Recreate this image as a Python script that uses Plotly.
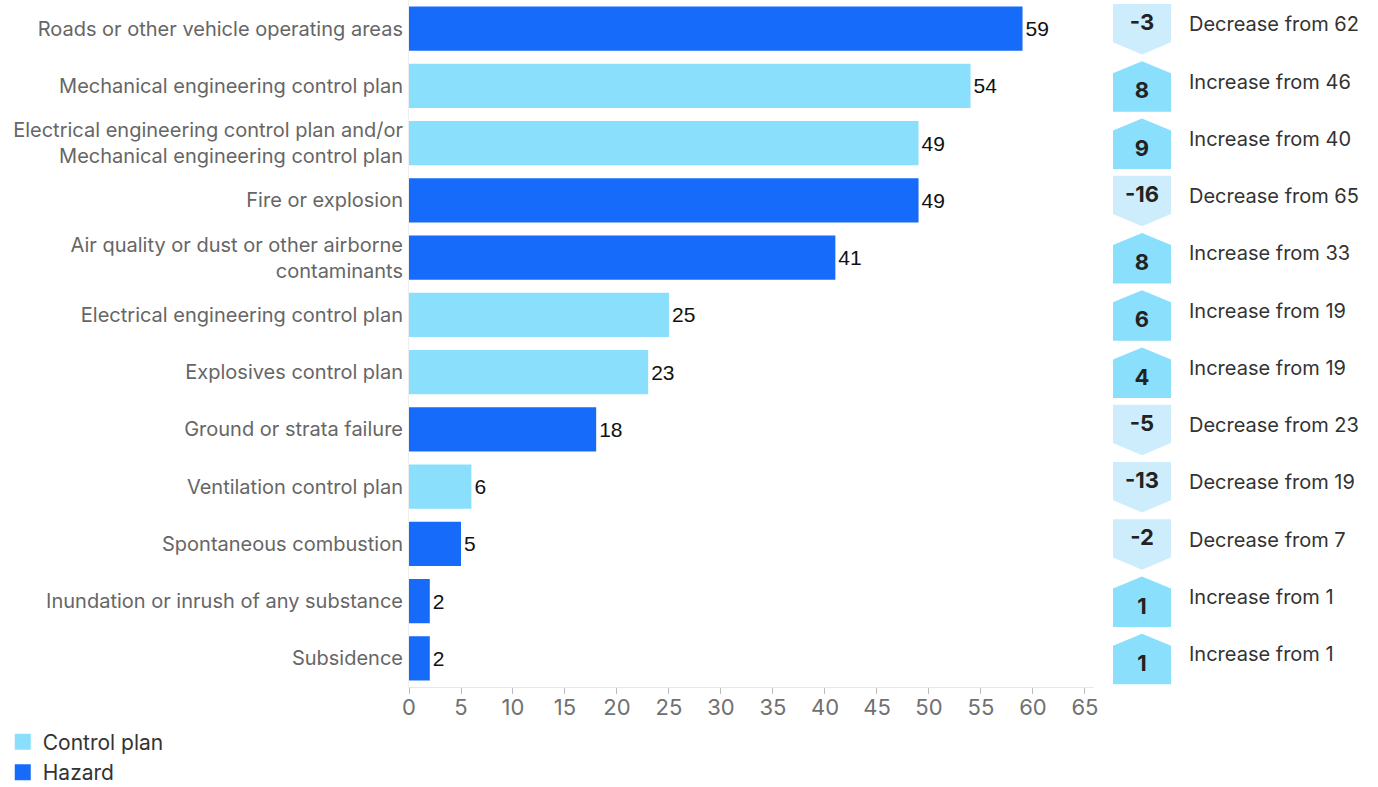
import plotly.graph_objects as go

# Incident counts by hazard / control plan category
categories = [
    "Roads or other vehicle operating areas",
    "Mechanical engineering control plan",
    "Electrical engineering control plan and/or<br>Mechanical engineering control plan",
    "Fire or explosion",
    "Air quality or dust or other airborne<br>contaminants",
    "Electrical engineering control plan",
    "Explosives control plan",
    "Ground or strata failure",
    "Ventilation control plan",
    "Spontaneous combustion",
    "Inundation or inrush of any substance",
    "Subsidence",
]
kinds = [
    "Hazard", "Control plan", "Control plan", "Hazard", "Hazard", "Control plan",
    "Control plan", "Hazard", "Control plan", "Hazard", "Hazard", "Hazard",
]
current = [59, 54, 49, 49, 41, 25, 23, 18, 6, 5, 2, 2]
previous = [62, 46, 40, 65, 33, 19, 19, 23, 19, 7, 1, 1]
x_ticks = list(range(0, 70, 5))

COLORS = {"Control plan": "#8adffd", "Hazard": "#166bfa"}
UP_FILL = "#8adffd"
DOWN_FILL = "#cdedfd"
LABEL_FONT = "Inter, 'Liberation Sans', Arial, sans-serif"
VALUE_FONT = "'Liberation Sans', Arial, sans-serif"

fig = go.Figure()

# Bars, one trace per kind
for kind in ["Control plan", "Hazard"]:
    idx = [i for i, k in enumerate(kinds) if k == kind]
    fig.add_trace(go.Bar(
        orientation="h",
        y=[categories[i] for i in idx],
        x=[current[i] for i in idx],
        width=0.77,
        marker=dict(color=COLORS[kind], line=dict(width=0)),
        text=[str(current[i]) for i in idx],
        textposition="outside",
        textfont=dict(family=VALUE_FONT, size=21, color="#111111"),
        cliponaxis=False,
        name=kind,
        legendgroup=kind,
        showlegend=False,
        hoverinfo="x+y",
    ))

# Legend entries with larger square swatches
for kind in ["Control plan", "Hazard"]:
    fig.add_trace(go.Scatter(
        x=[None], y=[None], mode="markers",
        marker=dict(symbol="square", size=16, color=COLORS[kind]),
        name=kind, legendgroup=kind, showlegend=True,
    ))

# Change badges (pentagon arrows) on a secondary pixel-like axis
BX0, BX1 = 19, 77
BXM = (BX0 + BX1) / 2
TIP = 0.21
for i, (cur, prev) in enumerate(zip(current, previous)):
    change = cur - prev
    top, bot = i - 0.43, i + 0.45
    if change < 0:
        xs = [BX0, BX1, BX1, BXM, BX0, BX0]
        ys = [top, top, bot - TIP, bot, bot - TIP, top]
        fill = DOWN_FILL
        ny = i - 0.07
        desc = f"Decrease from {prev}"
    else:
        xs = [BXM, BX1, BX1, BX0, BX0, BXM]
        ys = [top, top + TIP, bot, bot, top + TIP, top]
        fill = UP_FILL
        ny = i + 0.12
        desc = f"Increase from {prev}"
    fig.add_trace(go.Scatter(
        x=xs, y=ys, xaxis="x2", yaxis="y2", mode="lines",
        fill="toself", fillcolor=fill, line=dict(width=0, color=fill),
        showlegend=False, hoverinfo="skip",
    ))
    fig.add_trace(go.Scatter(
        x=[BXM], y=[ny], xaxis="x2", yaxis="y2", mode="text",
        text=[f"<b>{change}</b>"],
        textfont=dict(family=LABEL_FONT, size=22, color="#222222"),
        showlegend=False, hoverinfo="skip",
    ))
    fig.add_trace(go.Scatter(
        x=[95], y=[i - 0.04], xaxis="x2", yaxis="y2", mode="text",
        text=[desc], textposition="middle right",
        textfont=dict(family=LABEL_FONT, size=20, color="#333333"),
        showlegend=False, hoverinfo="skip",
    ))

fig.update_layout(
    width=1378, height=787,
    margin=dict(l=409, r=0, t=0, b=100, autoexpand=False),
    paper_bgcolor="white", plot_bgcolor="white",
    barmode="overlay",
    font=dict(family=LABEL_FONT, color="#666666"),
    xaxis=dict(
        domain=[0, 0.7069], range=[0, 65.87],
        tickvals=x_ticks, ticks="outside", ticklen=6, tickcolor="#bbbbbb",
        tickfont=dict(size=22, color="#707070"),
        ticklabelstandoff=-5,
        showgrid=False, zeroline=False,
        showline=True, linecolor="#e8e8e8", linewidth=1,
        automargin=False, fixedrange=True,
    ),
    yaxis=dict(
        type="category", categoryorder="array", categoryarray=categories,
        range=[11.5, -0.5],
        tickfont=dict(size=20, color="#666666"),
        ticks="", ticklabelstandoff=1,
        showgrid=False, zeroline=False,
        showline=True, linecolor="#eeeeee", linewidth=1,
        automargin=False, fixedrange=True,
    ),
    xaxis2=dict(domain=[0.7069, 1], range=[0, 284], visible=False,
                anchor="y2", fixedrange=True),
    yaxis2=dict(domain=[0, 1], range=[11.5, -0.5], visible=False,
                anchor="x2", fixedrange=True),
    legend=dict(
        xref="container", yref="container", x=0.002, y=0.083,
        xanchor="left", yanchor="top",
        font=dict(size=21, color="#333333"),
        itemwidth=30, tracegroupgap=0, bgcolor="rgba(0,0,0,0)",
    ),
    showlegend=True,
)

fig.write_html("out.html")
